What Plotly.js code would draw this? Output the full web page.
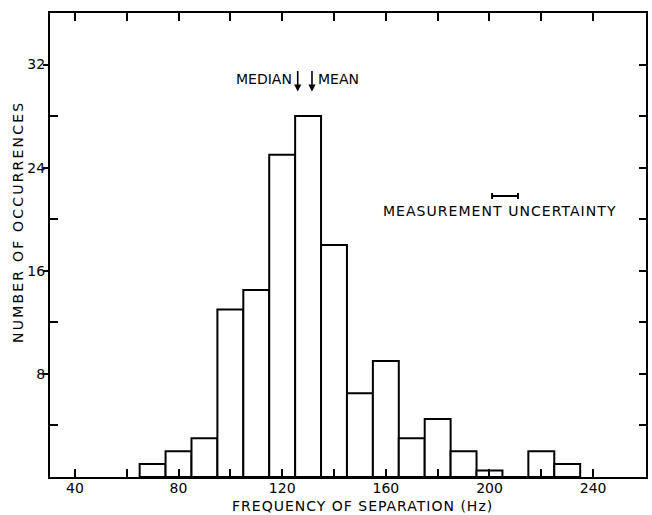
<!DOCTYPE html>
<html>
<head>
<meta charset="utf-8">
<script src="https://cdn.plot.ly/plotly-3.0.1.min.js"></script>
<style>
  html, body { margin: 0; padding: 0; background: #fff; }
  #chart { width: 652px; height: 515px; }
</style>
</head>
<body>
<div id="chart"></div>
<script>
// Histogram of separation frequencies, 10 Hz bins (bin centres in Hz)
const binCenters = [70, 80, 90, 100, 110, 120, 130, 140, 150, 160, 170, 180, 190, 200, 210, 220, 230];
const occurrences = [1, 2, 3, 13, 14.5, 25, 28, 18, 6.5, 9, 3, 4.5, 2, 0.5, 0, 2, 1];
const binWidth = 10;

// Axis ticks
const xTickVals = [40, 60, 80, 100, 120, 140, 160, 180, 200, 220, 240];
const xTickText = ['40', '', '80', '', '120', '', '160', '', '200', '', '240'];
const yMajorTicks = [8, 16, 24, 32];
const yMinorTicks = [4, 12, 20, 28];
const yRightTicks = [4, 8, 12, 16, 20, 24, 28, 32];

// Marked statistics and the uncertainty bar
const medianHz = 126;
const meanHz = 131.5;
const uncertaintyCenter = 206;
const uncertaintyHalfWidth = 5;

const FONT = 'DejaVu Sans, Liberation Sans, Arial, sans-serif';
const INK = '#000';

const traces = [
  {
    type: 'bar',
    x: binCenters,
    y: occurrences,
    width: binCenters.map(() => binWidth),
    marker: { color: '#fff', line: { color: INK, width: 2 } },
    hoverinfo: 'x+y',
    showlegend: false
  },
  {
    type: 'scatter',
    mode: 'markers',
    x: [uncertaintyCenter],
    y: [21.8],
    marker: { size: 1, color: INK },
    error_x: { type: 'constant', value: uncertaintyHalfWidth, color: INK, thickness: 2, width: 3 },
    hoverinfo: 'skip',
    showlegend: false
  },
  {
    // carries the right-hand frame ticks
    type: 'scatter',
    x: [],
    y: [],
    yaxis: 'y2',
    showlegend: false
  }
];

const arrow = (x) => ({
  x: x, y: 29.9, xref: 'x', yref: 'y',
  text: '', showarrow: true,
  ax: 0, ay: -22,
  arrowhead: 2, arrowsize: 0.9, arrowwidth: 1.6, arrowcolor: INK
});

const layout = {
  width: 652,
  height: 515,
  margin: { l: 50, r: 6, t: 13, b: 38 },
  paper_bgcolor: '#fff',
  plot_bgcolor: '#fff',
  font: { family: FONT, color: INK, size: 14 },
  bargap: 0,
  xaxis: {
    range: [30.4, 260.4],
    tickmode: 'array',
    tickvals: xTickVals,
    ticktext: xTickText,
    ticks: 'inside',
    ticklen: 8,
    tickwidth: 2,
    tickcolor: INK,
    ticklabelstandoff: -3,
    showline: true,
    linewidth: 2,
    linecolor: INK,
    mirror: 'ticks',
    showgrid: false,
    zeroline: false,
    tickfont: { size: 14 }
  },
  yaxis: {
    range: [0, 36],
    tickmode: 'array',
    tickvals: yMajorTicks,
    ticks: 'outside',
    ticklen: 5,
    tickwidth: 2,
    tickcolor: INK,
    ticklabelstandoff: -5,
    minor: { tickmode: 'array', tickvals: yMinorTicks, ticks: 'inside', ticklen: 8, tickwidth: 2, tickcolor: INK },
    showline: true,
    linewidth: 2,
    linecolor: INK,
    showgrid: false,
    zeroline: false,
    tickfont: { size: 14 }
  },
  yaxis2: {
    range: [0, 36],
    overlaying: 'y',
    side: 'right',
    tickmode: 'array',
    tickvals: yRightTicks,
    ticks: 'inside',
    ticklen: 7,
    tickwidth: 2,
    tickcolor: INK,
    showticklabels: false,
    showline: true,
    linewidth: 2,
    linecolor: INK,
    showgrid: false,
    zeroline: false
  },
  annotations: [
    arrow(medianHz),
    arrow(meanHz),
    { x: 124.4, y: 30.9, xref: 'x', yref: 'y', text: 'MEDIAN', showarrow: false, xanchor: 'right', font: { size: 14 } },
    { x: 133.2, y: 30.9, xref: 'x', yref: 'y', text: 'MEAN', showarrow: false, xanchor: 'left', font: { size: 14 } },
    { x: 204, y: 20.6, xref: 'x', yref: 'y', text: 'MEASUREMENT UNCERTAINTY', showarrow: false, xanchor: 'center', yanchor: 'middle', font: { size: 14 } },
    { x: 151, y: 0, xref: 'x', yref: 'paper', yshift: -29, text: 'FREQUENCY OF SEPARATION (Hz)', showarrow: false, xanchor: 'center', yanchor: 'middle', font: { size: 14 } },
    { x: 0, y: 0.55, xref: 'paper', yref: 'paper', xshift: -32, text: 'NUMBER OF OCCURRENCES', textangle: -90, showarrow: false, xanchor: 'center', yanchor: 'middle', font: { size: 14 } }
  ]
};

// Wider lettering for the titles and the uncertainty label
const spacing = [
  [/^MEASUREMENT/, '1.05px'],
  [/^FREQUENCY/, '1px'],
  [/^NUMBER/, '2.2px']
];

Plotly.newPlot('chart', traces, layout, { displayModeBar: false, staticPlot: true }).then((gd) => {
  gd.querySelectorAll('.annotation-text').forEach((t) => {
    spacing.forEach(([re, ls]) => {
      if (re.test(t.textContent)) t.style.letterSpacing = ls;
    });
  });
});
</script>
</body>
</html>
